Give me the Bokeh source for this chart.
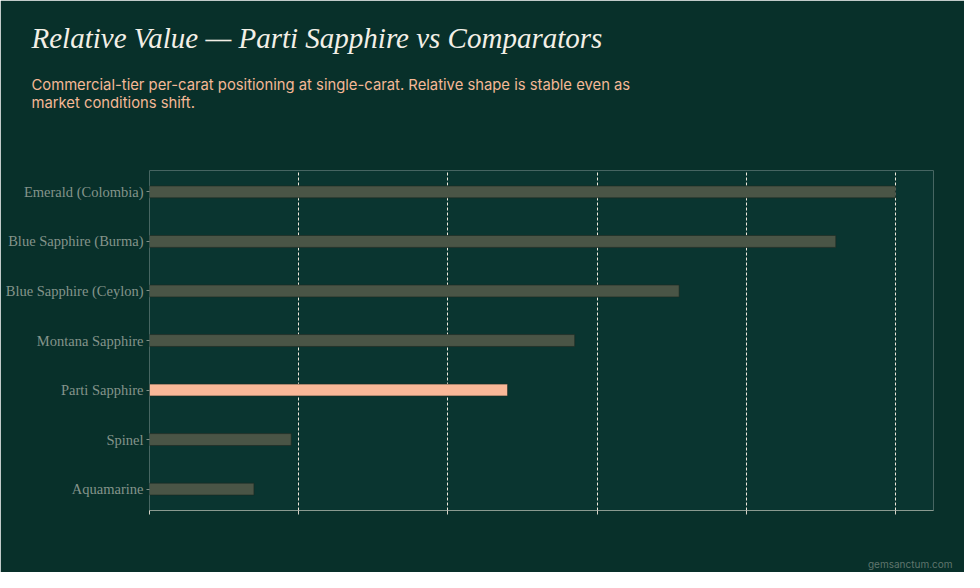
from bokeh.plotting import figure
from bokeh.models import ColumnDataSource, Title, FactorRange, Range1d, SingleIntervalTicker
from bokeh.embed import file_html
from bokeh.resources import INLINE

# ---- data (top to bottom as shown) ----
gems = ["Emerald (Colombia)", "Blue Sapphire (Burma)", "Blue Sapphire (Ceylon)",
        "Montana Sapphire", "Parti Sapphire", "Spinel", "Aquamarine"]
relative_value = [100, 92, 71, 57, 48, 19, 14]
highlight = "Parti Sapphire"

BASE = "#4a5546"
HI = "#f9b898"
colors = [HI if g == highlight else BASE for g in gems]

factors = list(reversed(gems))
src = ColumnDataSource(dict(gem=gems, value=relative_value, color=colors))

p = figure(width=964, height=572, output_backend="svg", toolbar_location=None,
           y_range=FactorRange(factors=factors, range_padding=-0.0675, range_padding_units="absolute"),
           x_range=Range1d(0, 105.1),
           min_border_left=149, min_border_right=31, min_border_top=169, min_border_bottom=62)

p.background_fill_color = "#0a3530"
p.border_fill_color = "#08302a"
p.outline_line_color = None

p.hbar(y="gem", right="value", left=0, height=0.24, color="color", source=src,
       line_color="#1e2a22", line_width=1, line_alpha=0.6)

# x axis: no labels, line + ticks
p.xaxis.ticker = SingleIntervalTicker(interval=20)
p.xaxis.major_label_text_font_size = "0pt"
p.xaxis.major_label_text_color = None
p.xaxis.axis_line_color = "#8a9a90"
p.xaxis.major_tick_line_color = "#d8d4c8"
p.xaxis.major_tick_in = 0
p.xaxis.major_tick_out = 4
p.xaxis.minor_tick_line_color = None

# y axis
p.yaxis.axis_line_color = None
p.yaxis.major_tick_line_color = "#7f8f86"
p.yaxis.major_tick_in = 0
p.yaxis.major_tick_out = 3
p.yaxis.major_label_standoff = 3
p.yaxis.major_label_text_font = "Liberation Serif"
p.yaxis.major_label_text_font_size = "14.5px"
p.yaxis.major_label_text_color = "#84948a"

# grid
p.ygrid.grid_line_color = None
p.xgrid.grid_line_color = "#efe9dc"
p.xgrid.grid_line_dash = "3 2"
p.xgrid.grid_line_width = 1

# titles: added nearest-the-frame first
p.add_layout(Title(text=" ", text_font="Inter", text_font_size="10px",
                   text_font_style="normal", align="left", standoff=45), "above")
p.add_layout(Title(text="Commercial-tier per-carat positioning at single-carat. Relative shape is stable even as\nmarket conditions shift.",
                   text_font="Inter", text_font_size="14.8px", text_color="#f4b896",
                   text_font_style="normal", text_line_height=1.0,
                   align="left", offset=-118, standoff=0), "above")
p.add_layout(Title(text="Relative Value \u2014 Parti Sapphire vs Comparators",
                   text_font="Liberation Serif", text_font_style="italic",
                   text_font_size="29px", text_color="#f3efe6",
                   align="left", offset=-118, standoff=39), "above")

p.add_layout(Title(text=" ", text_font="Inter", text_font_size="10px",
                   text_font_style="normal", align="left", standoff=27), "below")
p.add_layout(Title(text="gemsanctum.com", text_font="Inter", text_font_size="10px",
                   text_font_style="normal", text_color="#5f756d",
                   align="right", offset=-19, standoff=0), "below")

html = file_html(p, INLINE)
open("out.html", "w").write(html)
